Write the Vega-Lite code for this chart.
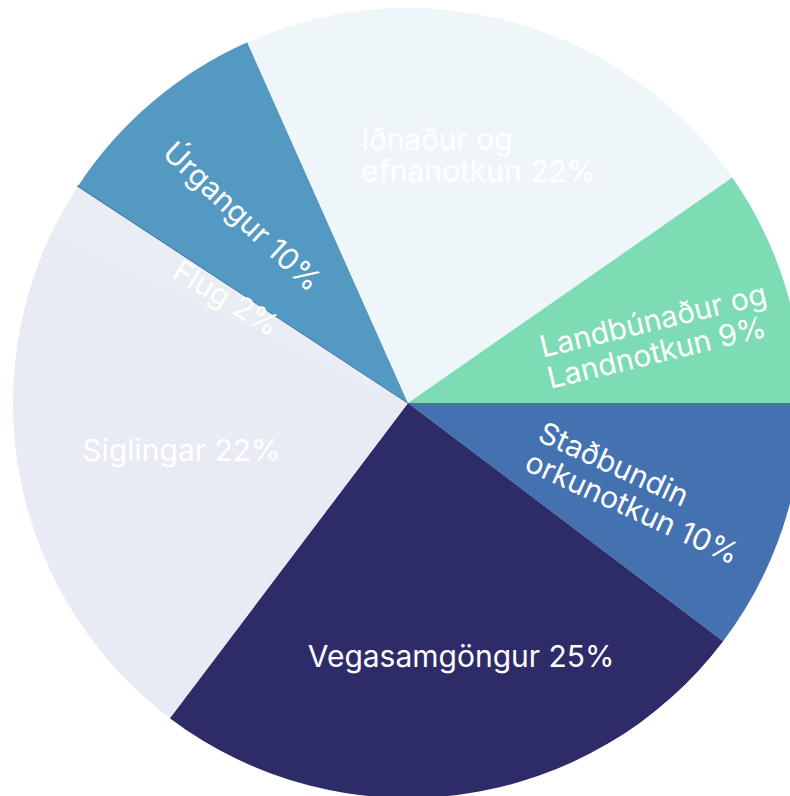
{
  "$schema": "https://vega.github.io/schema/vega-lite/v6.json",
  "width": 764,
  "height": 786,
  "autosize": {"type": "none"},
  "padding": {"left": 26, "top": 10, "right": 0, "bottom": 0},
  "background": "#ffffff",
  "config": {"view": {"stroke": null}},
  "data": {
    "values": [
      {"rank": 1, "category": "Staðbundin orkunotkun", "value": 10.3, "label": "Staðbundin\norkunotkun 10%"},
      {"rank": 2, "category": "Vegasamgöngur", "value": 25.0, "label": "Vegasamgöngur 25%"},
      {"rank": 3, "category": "Siglingar", "value": 21.9, "label": "Siglingar 22%"},
      {"rank": 4, "category": "Flug", "value": 2.05, "label": "Flug 2%"},
      {"rank": 5, "category": "Annað", "value": 0.01, "label": ""},
      {"rank": 6, "category": "Úrgangur", "value": 9.07, "label": "Úrgangur 10%"},
      {"rank": 7, "category": "Iðnaður og efnanotkun", "value": 22.0, "label": "Iðnaður og\nefnanotkun 22%"},
      {"rank": 8, "category": "Landbúnaður og Landnotkun", "value": 9.67, "label": "Landbúnaður og\nLandnotkun 9%"}
    ]
  },
  "encoding": {
    "theta": {"field": "value", "type": "quantitative", "stack": true, "scale": {"range": [1.5707963, 7.8539816]}},
    "order": {"field": "rank", "type": "quantitative"}
  },
  "layer": [
    {
      "mark": {"type": "arc", "outerRadius": 395, "stroke": "#3a5fa6"},
      "encoding": {
        "color": {
          "field": "category", "type": "nominal", "legend": null,
          "scale": {
            "domain": ["Staðbundin orkunotkun", "Vegasamgöngur", "Siglingar", "Flug", "Annað", "Úrgangur", "Iðnaður og efnanotkun", "Landbúnaður og Landnotkun"],
            "range": ["#4472b1", "#2e2b69", "#e8ebf3", "#e9eef5", "#3a5fa6", "#5499c1", "#eef6f9", "#7ddcb3"]
          }
        },
        "strokeWidth": {"condition": {"test": "datum.rank === 5", "value": 1.2}, "value": 0}
      }
    },
    {
      "mark": {"type": "text", "font": "Inter", "fontSize": 30, "fill": "#ffffff", "lineBreak": "\n", "lineHeight": 32, "baseline": "middle", "align": "left", "radius": 137, "angle": 24.5, "dx": -4, "dy": -14},
      "encoding": {"text": {"condition": {"test": "datum.rank === 1", "field": "label"}, "value": ""}}
    },
    {
      "mark": {"type": "text", "font": "Inter", "fontSize": 30, "fill": "#ffffff", "baseline": "middle", "align": "center", "radius": 255, "dx": 18, "dy": 2},
      "encoding": {"text": {"condition": {"test": "datum.rank === 2", "field": "label"}, "value": ""}}
    },
    {
      "mark": {"type": "text", "font": "Inter", "fontSize": 30, "fill": "#ffffff", "baseline": "middle", "align": "center", "radius": 232, "dx": -1, "dy": -5},
      "encoding": {"text": {"condition": {"test": "datum.rank === 3", "field": "label"}, "value": ""}}
    },
    {
      "mark": {"type": "text", "font": "Inter", "fontSize": 30, "fill": "#ffffff", "baseline": "middle", "align": "center", "radius": 210, "angle": 31},
      "encoding": {"text": {"condition": {"test": "datum.rank === 4", "field": "label"}, "value": ""}}
    },
    {
      "mark": {"type": "text", "font": "Inter", "fontSize": 30, "fill": "#ffffff", "baseline": "middle", "align": "center", "radius": 250, "angle": 43, "dy": 7},
      "encoding": {"text": {"condition": {"test": "datum.rank === 6", "field": "label"}, "value": ""}}
    },
    {
      "mark": {"type": "text", "font": "Inter", "fontSize": 30, "fill": "#ffffff", "lineBreak": "\n", "lineHeight": 32, "baseline": "middle", "align": "left", "radius": 250, "dx": -114, "dy": -21},
      "encoding": {"text": {"condition": {"test": "datum.rank === 7", "field": "label"}, "value": ""}}
    },
    {
      "mark": {"type": "text", "font": "Inter", "fontSize": 30, "fill": "#ffffff", "lineBreak": "\n", "lineHeight": 32, "baseline": "middle", "align": "left", "radius": 142, "angle": 346.5, "dy": -12},
      "encoding": {"text": {"condition": {"test": "datum.rank === 8", "field": "label"}, "value": ""}}
    }
  ]
}
